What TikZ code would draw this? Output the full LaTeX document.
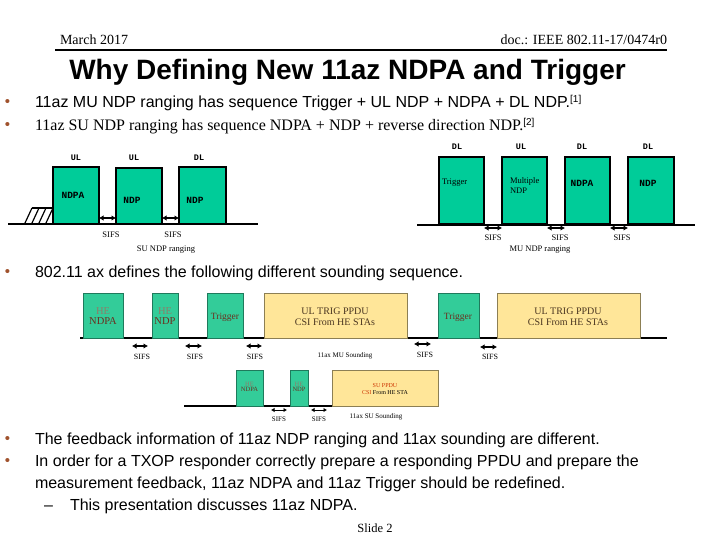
\documentclass[tikz,border=0pt]{standalone}
\usepackage{fontspec}
\setmainfont{Liberation Serif}
\newfontfamily\arialf{Liberation Sans}
\newfontfamily\monof{Liberation Mono}
\usetikzlibrary{arrows.meta}
\definecolor{tealA}{HTML}{00CC99}
\definecolor{tealB}{HTML}{33CC99}
\definecolor{yelB}{HTML}{FFE699}
\definecolor{bulC}{HTML}{A0522D}
\definecolor{heC}{HTML}{8C7F6A}
\definecolor{ndC}{HTML}{6B2E1E}
\definecolor{ulC}{HTML}{4A3520}
\definecolor{suC}{HTML}{CC3300}
\newcommand{\fs}[1]{\fontsize{#1}{#1}\selectfont}
\begin{document}
\begin{tikzpicture}[x=1pt,y=-1pt,
  box/.style={draw=black,line width=1.5pt,fill=tealA,inner sep=0,outer sep=0,anchor=north west},
  hebox/.style={draw=tealB!60!black,line width=0.6pt,fill=tealB,inner sep=0,outer sep=0,anchor=north west},
  ybox/.style={draw=yelB!55!black,line width=0.6pt,fill=yelB,inner sep=0,outer sep=0,anchor=north west},
  sifsarrow/.style={{Latex[length=4.5pt,width=5.5pt]}-{Latex[length=4.5pt,width=5.5pt]},line width=1.2pt},
  sifsarrowS/.style={{Latex[length=3.5pt,width=4.5pt]}-{Latex[length=3.5pt,width=4.5pt]},line width=1pt},
  base/.style={line width=1.5pt},
  txt/.style={inner sep=0,outer sep=0},
  bigtxt/.style={txt,anchor=base west,font=\arialf\fs{16}},
  bul/.style={txt,anchor=base west,font=\arialf\fs{15},text=bulC},
  dl/.style={txt,font=\monof\bfseries\fs{8.5}},
  inb/.style={txt,font=\monof\bfseries\fs{9.5}},
  sm/.style={txt,font=\fs{8.5}},
  hs/.style={txt,font=\fs{10.5},align=center},
  ss/.style={txt,font=\fs{6.5},align=center}]
\useasboundingbox (0,0) rectangle (720,540);
\fill[white] (0,0) rectangle (720,540);

% header
\node[txt,anchor=base west,font=\fs{14}] (hdate) at (60,45) {March 2017};
\node[txt,anchor=base east,font=\fs{14}] (hdoc) at (667,45) {doc.: IEEE 802.11-17/0474r0};
\node[txt,anchor=west] (hrule) at (55,50) {\rule{612pt}{2pt}};
\node[txt,anchor=base,font=\arialf\bfseries\fs{28}] (title) at (347.5,80) {Why Defining New 11az NDPA and Trigger};

% bullets top
\node[bul] (bu1) at (5,107) {•};
\node[bigtxt] (t1) at (35,108) {11az MU NDP ranging has sequence Trigger + UL NDP + NDPA + DL NDP.\raisebox{5pt}{\fs{10}[1]}};
\node[bul] (bu2) at (5,130) {•};
\node[txt,anchor=base west,font=\fs{16}] (t2) at (35,131) {11az SU NDP ranging has sequence NDPA + NDP + reverse direction NDP.\raisebox{5pt}{\arialf\fs{10}[2]}};

% SU NDP ranging
\draw[base] (8,224) -- (258,224);
\draw[line width=1.2pt] (32,208) -- (53,208);
\foreach \a in {25,32,39,46} \draw[line width=1.2pt] (\a,223) -- (\a+7,208);
\node[box,minimum width=46,minimum height=57] (sa) at (53,167) {};
\node[box,minimum width=46,minimum height=56] (sb) at (116,168) {};
\node[box,minimum width=47,minimum height=57] (sc) at (179,167) {};
\node[dl] (lsa) at (76,158) {UL};
\node[dl] (lsb) at (134,158) {UL};
\node[dl] (lsc) at (199,158) {DL};
\node[inb] (nsa) at (73,195) {NDPA};
\node[inb] (nsb) at (132,200) {NDP};
\node[inb] (nsc) at (195,200) {NDP};
\draw[sifsarrow] ([yshift=6pt]sa.south east) -- ([yshift=6pt]sb.south west);
\draw[sifsarrow] ([yshift=6pt]sb.south east) -- ([yshift=6pt]sc.south west);
\node[sm] (ssa) at (111,235) {SIFS};
\node[sm] (ssb) at (173,235) {SIFS};
\node[sm] (sun) at (166,250) {SU NDP ranging};

% MU NDP ranging
\draw[base] (417,225) -- (695,225);
\node[box,minimum width=45,minimum height=67] (ma) at (439,157) {};
\node[box,minimum width=45,minimum height=67] (mb) at (502,157) {};
\node[box,minimum width=45,minimum height=67] (mc) at (565,157) {};
\node[box,minimum width=46,minimum height=67] (md) at (628,157) {};
\node[dl] (lma) at (457,147) {DL};
\node[dl] (lmb) at (521,147) {UL};
\node[dl] (lmc) at (582,147) {DL};
\node[dl] (lmd) at (648,147) {DL};
\node[txt,anchor=west,font=\fs{8.5}] (nma) at (442,183) {Trigger};
\node[txt,anchor=north west,font=\fs{8.5},align=left] (nmb) at (510,178) {Multiple\\[1pt]NDP};
\node[inb] (nmc) at (582,183) {NDPA};
\node[inb] (nmd) at (648,183) {NDP};
\draw[sifsarrow] ([yshift=-4pt]ma.south east) -- ([yshift=-4pt]mb.south west);
\draw[sifsarrow] ([yshift=-4pt]mb.south east) -- ([yshift=-4pt]mc.south west);
\draw[sifsarrow] ([yshift=-4pt]mc.south east) -- ([yshift=-4pt]md.south west);
\node[sm] (sma) at (493,238) {SIFS};
\node[sm] (smb) at (560,238) {SIFS};
\node[sm] (smc) at (622,238) {SIFS};
\node[sm] (mun) at (540,250) {MU NDP ranging};

% 802.11ax bullet
\node[bul] (bu3) at (5,276) {•};
\node[bigtxt] (t3) at (35,277) {802.11 ax defines the following different sounding sequence.};

% 11ax MU sounding
\draw[base] (80,338) -- (667,338);
\node[hebox,minimum width=40,minimum height=45] (xa) at (83,293) {};
\node[hebox,minimum width=26,minimum height=45] (xb) at (152,293) {};
\node[hebox,minimum width=36,minimum height=45] (xc) at (207,293) {};
\node[ybox,minimum width=143,minimum height=45] (xd) at (264,293) {};
\node[hebox,minimum width=41,minimum height=45] (xe) at (438,293) {};
\node[ybox,minimum width=143,minimum height=45] (xf) at (497,293) {};
\node[hs] (nxa) at (103,316) {\textcolor{heC}{HE}\\[-1pt]\textcolor{ndC}{NDPA}};
\node[hs] (nxb) at (165,316) {\textcolor{heC}{HE}\\[-1pt]\textcolor{ndC}{NDP}};
\node[hs,text=ndC,font=\fs{9.5}] (nxc) at (225,317) {Trigger};
\node[hs,text=ulC,font=\fs{10}] (nxd) at (335,316.5) {UL TRIG PPDU\\[1pt]CSI From HE STAs};
\node[hs,text=ndC,font=\fs{9.5}] (nxe) at (458,317) {Trigger};
\node[hs,text=ulC,font=\fs{10}] (nxf) at (568,316.5) {UL TRIG PPDU\\[1pt]CSI From HE STAs};
\coordinate (ax1) at (132,346); \coordinate (ax2) at (148,346);
\coordinate (ax3) at (185,346); \coordinate (ax4) at (202,346);
\coordinate (ax5) at (246,346); \coordinate (ax6) at (262,346);
\coordinate (ax7) at (414,344); \coordinate (ax8) at (431,344);
\coordinate (ax9) at (480,347); \coordinate (ax10) at (497,347);
\draw[sifsarrow] (ax1) -- (ax2);
\draw[sifsarrow] (ax3) -- (ax4);
\draw[sifsarrow] (ax5) -- (ax6);
\draw[sifsarrow] (ax7) -- (ax8);
\draw[sifsarrow] (ax9) -- (ax10);
\node[sm,font=\fs{8}] (sxa) at (142,357) {SIFS};
\node[sm,font=\fs{8}] (sxb) at (195,357) {SIFS};
\node[sm,font=\fs{8}] (sxc) at (255,357) {SIFS};
\node[sm,font=\fs{8}] (sxd) at (425,355) {SIFS};
\node[sm,font=\fs{8}] (sxe) at (490,357) {SIFS};
\node[sm,font=\fs{7}] (mus) at (345,356) {11ax MU Sounding};

% 11ax SU sounding
\draw[base] (184,406) -- (437,406);
\node[hebox,minimum width=27,minimum height=36] (ya) at (236,370) {};
\node[hebox,minimum width=18,minimum height=36] (yb) at (290,370) {};
\node[ybox,minimum width=106,minimum height=36] (yc) at (332,370) {};
\node[ss] (nya) at (249.5,387) {\textcolor{heC}{HE}\\[-1pt]\textcolor{ndC}{NDPA}};
\node[ss] (nyb) at (299,387) {\textcolor{heC}{HE}\\[-1pt]\textcolor{ndC}{NDP}};
\node[ss,font=\fs{6}] (nyc) at (385,389) {\textcolor{suC}{SU PPDU}\\[1pt]\textcolor{suC}{CSI} From HE STA};
\coordinate (ay1) at (271,410); \coordinate (ay2) at (287,410);
\coordinate (ay3) at (311,410); \coordinate (ay4) at (327,410);
\draw[sifsarrowS] (ay1) -- (ay2);
\draw[sifsarrowS] (ay3) -- (ay4);
\node[sm,font=\fs{7}] (sya) at (279,419) {SIFS};
\node[sm,font=\fs{7}] (syb) at (319,419) {SIFS};
\node[sm,font=\fs{7}] (sus) at (376,417) {11ax SU Sounding};

% bottom bullets
\node[bul] (bu4) at (5,443) {•};
\node[bigtxt] (t4) at (35,444) {The feedback information of 11az NDP ranging and 11ax sounding are different.};
\node[bul] (bu5) at (5,465) {•};
\node[bigtxt] (t5) at (35,466) {In order for a TXOP responder correctly prepare a responding PPDU and prepare the};
\node[bigtxt] (t6) at (35,488) {measurement feedback, 11az NDPA and 11az Trigger should be redefined.};
\node[bigtxt] (dash) at (44,510) {–};
\node[bigtxt] (t7) at (70,510) {This presentation discusses 11az NDPA.};
\node[txt,anchor=base,font=\fs{12.5}] (slide) at (375,532) {Slide 2};
\end{tikzpicture}
\end{document}
